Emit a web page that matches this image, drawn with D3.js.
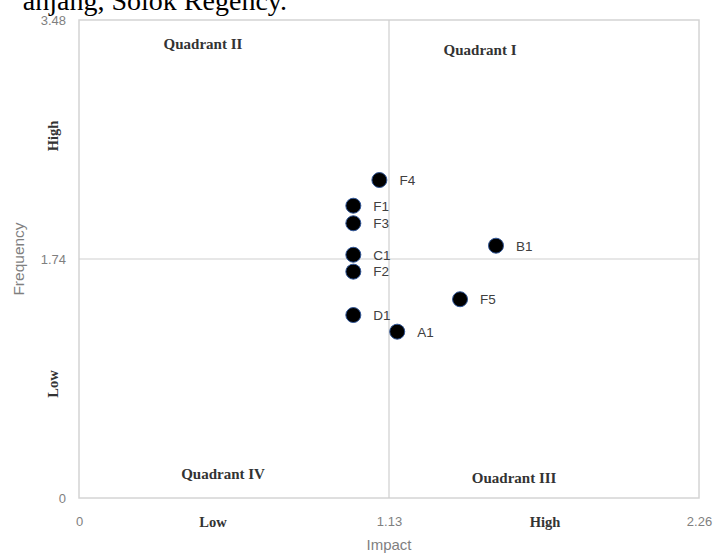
<!DOCTYPE html>
<html>
<head>
<meta charset="utf-8">
<script src="https://cdn.jsdelivr.net/npm/d3@7"></script>
<style>
  body { margin: 0; background: #fff; }
  svg { display: block; }
</style>
</head>
<body>
<div id="vis"></div>
<script>
// chart data
const CODES = ["F4", "F1", "F3", "C1", "F2", "D1", "A1", "F5", "B1"];
const IMPACT = [1.095, 1.0, 1.0, 1.0, 1.0, 1.0, 1.16, 1.389, 1.52];
const FREQUENCY = [2.315, 2.128, 2.0, 1.771, 1.648, 1.332, 1.211, 1.447, 1.837];
const X_TICKS = [0, 1.13, 2.26];
const Y_TICKS = [0, 1.74, 3.48];
const QUADRANTS = ["Quadrant II", "Quadrant I", "Quadrant IV", "Ouadrant III"];

// Constants for the frame
const FRAME_WIDTH = 713;
const FRAME_HEIGHT = 553;
const MARGINS = {left: 79, right: 14, top: 20, bottom: 55};
const VIS_WIDTH = FRAME_WIDTH - (MARGINS.left + MARGINS.right);
const VIS_HEIGHT = FRAME_HEIGHT - (MARGINS.top + MARGINS.bottom);

const X_SCALE = d3.scaleLinear().domain([0, 2.26]).range([0, VIS_WIDTH]);
const Y_SCALE = d3.scaleLinear().domain([0, 3.48]).range([VIS_HEIGHT, 0]);

const SANS = "'Liberation Sans', Arial, sans-serif";
const SERIF = "'Liberation Serif', 'Times New Roman', serif";

const FRAME = d3.select("#vis")
    .append("svg")
    .attr("width", FRAME_WIDTH)
    .attr("height", FRAME_HEIGHT);

// clipped caption line from the page above the figure
FRAME.append("text")
    .attr("x", 287)
    .attr("y", 10)
    .attr("text-anchor", "end")
    .attr("font-family", SERIF)
    .attr("font-size", "28px")
    .attr("fill", "#000")
    .text("anjang, Solok Regency.");

const G = FRAME.append("g")
    .attr("transform", "translate(" + MARGINS.left + "," + MARGINS.top + ")");

// plot border
G.append("rect")
    .attr("x", 0).attr("y", 0)
    .attr("width", VIS_WIDTH).attr("height", VIS_HEIGHT)
    .attr("fill", "none")
    .attr("stroke", "#d4d4d4")
    .attr("stroke-width", 1.5);

// quadrant dividers
G.append("line")
    .attr("x1", X_SCALE(X_TICKS[1])).attr("x2", X_SCALE(X_TICKS[1]))
    .attr("y1", 0).attr("y2", VIS_HEIGHT)
    .attr("stroke", "#cfcfcf").attr("stroke-width", 1.2);
G.append("line")
    .attr("x1", 0).attr("x2", VIS_WIDTH)
    .attr("y1", Y_SCALE(Y_TICKS[1])).attr("y2", Y_SCALE(Y_TICKS[1]))
    .attr("stroke", "#cfcfcf").attr("stroke-width", 1.2);

// axes (labels only)
const xAxis = G.append("g")
    .attr("transform", "translate(0," + (VIS_HEIGHT + 16) + ")")
    .call(d3.axisBottom(X_SCALE).tickValues(X_TICKS).tickSize(0).tickFormat(d => d === 0 ? "0" : d3.format(".2f")(d)));
const yAxis = G.append("g")
    .attr("transform", "translate(-10,0)")
    .call(d3.axisLeft(Y_SCALE).tickValues(Y_TICKS).tickSize(0).tickFormat(d => d === 0 ? "0" : d3.format(".2f")(d)));
[xAxis, yAxis].forEach(a => {
    a.select(".domain").remove();
    a.selectAll("text")
        .attr("font-family", SANS)
        .attr("font-size", "13px")
        .attr("fill", "#7f7f7f");
});
yAxis.selectAll("text").attr("dy", "0.36em");

// axis titles
FRAME.append("text")
    .attr("transform", "translate(24," + (MARGINS.top + Y_SCALE(1.74)) + ") rotate(-90)")
    .attr("text-anchor", "middle")
    .attr("font-family", SANS)
    .attr("font-size", "15.5px")
    .attr("fill", "#7f7f7f")
    .text("Frequency");
FRAME.append("text")
    .attr("x", MARGINS.left + X_SCALE(1.13))
    .attr("y", 550)
    .attr("text-anchor", "middle")
    .attr("font-family", SANS)
    .attr("font-size", "15px")
    .attr("fill", "#7f7f7f")
    .text("Impact");

// High / Low labels
const LEVEL_STYLE = (s) => s.attr("font-family", SERIF)
    .attr("font-size", "14.5px")
    .attr("font-weight", "bold")
    .attr("fill", "#333")
    .attr("text-anchor", "middle");
FRAME.append("text")
    .attr("transform", "translate(58,136) rotate(-90)")
    .call(LEVEL_STYLE).text("High");
FRAME.append("text")
    .attr("transform", "translate(58,384) rotate(-90)")
    .call(LEVEL_STYLE).text("Low");
FRAME.append("text")
    .attr("x", 213).attr("y", 527)
    .call(LEVEL_STYLE).text("Low");
FRAME.append("text")
    .attr("x", 545).attr("y", 527)
    .call(LEVEL_STYLE).text("High");

// quadrant names
const Q_POS = [[0.452, 3.31], [1.462, 3.26], [0.525, 0.18], [1.586, 0.15]];
G.selectAll(".quad")
    .data(QUADRANTS)
    .enter()
    .append("text")
    .attr("class", "quad")
    .attr("x", (d, i) => X_SCALE(Q_POS[i][0]))
    .attr("y", (d, i) => Y_SCALE(Q_POS[i][1]))
    .attr("dy", "0.35em")
    .attr("text-anchor", "middle")
    .attr("font-family", SERIF)
    .attr("font-size", "15px")
    .attr("font-weight", "bold")
    .attr("fill", "#333")
    .text(d => d);

// points
const DATA = CODES.map((c, i) => ({code: c, x: IMPACT[i], y: FREQUENCY[i]}));
G.selectAll(".point")
    .data(DATA)
    .enter()
    .append("circle")
    .attr("class", "point")
    .attr("cx", d => X_SCALE(d.x))
    .attr("cy", d => Y_SCALE(d.y))
    .attr("r", 7.5)
    .attr("fill", "#000")
    .attr("stroke", "#2f5597")
    .attr("stroke-width", 1);

G.selectAll(".plabel")
    .data(DATA)
    .enter()
    .append("text")
    .attr("class", "plabel")
    .attr("x", d => X_SCALE(d.x) + 20)
    .attr("y", d => Y_SCALE(d.y))
    .attr("dy", "0.36em")
    .attr("font-family", SANS)
    .attr("font-size", "13.5px")
    .attr("fill", "#404040")
    .text(d => d.code);
</script>
</body>
</html>
